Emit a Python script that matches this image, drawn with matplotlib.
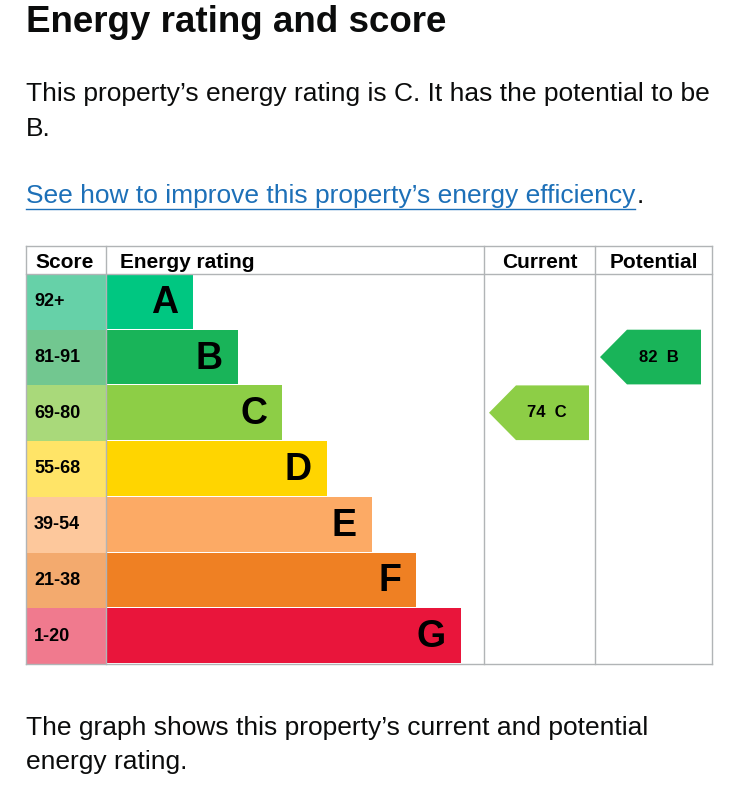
import matplotlib
matplotlib.use("Agg")
import matplotlib.pyplot as plt
from matplotlib.patches import Polygon, Rectangle

letters = ["A", "B", "C", "D", "E", "F", "G"]
score_ranges = ["92+", "81-91", "69-80", "55-68", "39-54", "21-38", "1-20"]
bar_ends = [193, 238, 282, 327, 372, 416, 461]  # bar right edge per band (px scale)
bar_colors = ["#00c781", "#19b459", "#8dce46", "#ffd500", "#fcaa65", "#ef8023", "#e9153b"]
score_colors = ["#66d1a8", "#72c790", "#a9d97a", "#ffe467", "#fdc89c", "#f3aa6e", "#f07a8e"]
current_score, current_letter = 74, "C"
potential_score, potential_letter = 82, "B"

plt.rcParams['font.family'] = ['Liberation Sans', 'DejaVu Sans']
fig = plt.figure(figsize=(7.38, 8), dpi=100)
ax = fig.add_axes([0, 0, 1, 1])
ax.set_xlim(0, 738); ax.set_ylim(800, 0); ax.axis("off")

body = 19
ax.text(26, 22, "Energy rating and score", fontsize=26.5, fontweight="bold", va="center", color="#0b0c0c")
ax.text(26, 94, "This property\u2019s energy rating is C. It has the potential to be", fontsize=body, va="center", color="#0b0c0c")
ax.text(26, 129, "B.", fontsize=body, va="center", color="#0b0c0c")
lk = ax.text(26, 196, "See how to improve this property\u2019s energy efficiency", fontsize=body, va="center", color="#1d70b8")
fig.canvas.draw()
bb = lk.get_window_extent().transformed(ax.transData.inverted())
x1 = max(bb.x0, bb.x1)
ax.plot([26, x1], [209, 209], color="#1d70b8", lw=1)
ax.text(x1 + 1, 196, ".", fontsize=body, va="center", color="#0b0c0c")

ax.text(26, 728, "The graph shows this property\u2019s current and potential", fontsize=body, va="center", color="#0b0c0c")
ax.text(26, 762, "energy rating.", fontsize=body, va="center", color="#0b0c0c")

top, head, rh = 246, 274, 55.7
left, sc_r, cur_l, pot_l, right = 26, 106, 484, 595, 712
gc = "#b1b4b6"
bottom = head + rh * len(letters)
for y in [top, head, bottom]:
    ax.plot([left, right], [y, y], color=gc, lw=1)
for x in [left, sc_r, cur_l, pot_l, right]:
    ax.plot([x, x], [top, bottom], color=gc, lw=1)
hy = (top + head) / 2 + 2
ax.text(left + 9, hy, "Score", fontsize=15, fontweight="bold", va="center")
ax.text(sc_r + 14, hy, "Energy rating", fontsize=15, fontweight="bold", va="center")
ax.text((cur_l + pot_l) / 2, hy, "Current", fontsize=15, fontweight="bold", va="center", ha="center")
ax.text((pot_l + right) / 2, hy, "Potential", fontsize=15, fontweight="bold", va="center", ha="center")

for i, (L, s, e, bc, scc) in enumerate(zip(letters, score_ranges, bar_ends, bar_colors, score_colors)):
    y0 = head + i * rh
    ax.add_patch(Rectangle((left, y0), sc_r - left, rh, color=scc, lw=0))
    ax.add_patch(Rectangle((sc_r, y0), e - sc_r, rh - 1, color=bc, lw=0))
    ax.text(left + 8, y0 + rh / 2, s, fontsize=13, fontweight="bold", va="center")
    ax.text(e - 15, y0 + rh / 2 + 1, L, fontsize=27, fontweight="bold", va="center", ha="right")

def arrow(x0, x1, letter, score):
    i = letters.index(letter)
    y0 = head + i * rh; y1 = y0 + rh - 1; ym = (y0 + y1) / 2
    ax.add_patch(Polygon([(x0, ym), (x0 + 27, y0), (x1, y0), (x1, y1), (x0 + 27, y1)],
                         color=bar_colors[i], lw=0))
    ax.text((x0 + x1) / 2 + 8, ym, f"{score}  {letter}", fontsize=12, fontweight="bold", va="center", ha="center")

arrow(489, 589, current_letter, current_score)
arrow(600, 701, potential_letter, potential_score)
fig.savefig("out.png", dpi=100)
